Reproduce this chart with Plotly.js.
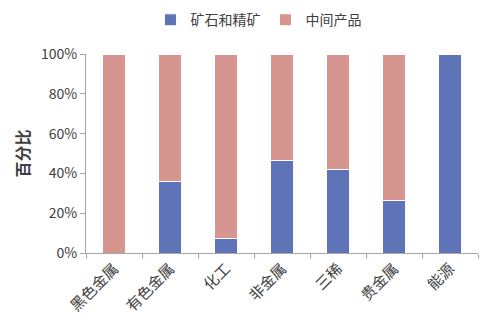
<!DOCTYPE html>
<html><head><meta charset="utf-8">
<script src="https://cdn.plot.ly/plotly-3.0.1.min.js"></script>
<style>body{margin:0;background:#fff}#c{width:494px;height:331px}</style>
</head><body><div id="c"></div>
<script>
const categories = ['黑色金属','有色金属','化工','非金属','三稀','贵金属','能源'];
const oreValues = [0, 0.36, 0.074, 0.467, 0.418, 0.264, 1.0];
const midValues = [1.0, 0.64, 0.926, 0.533, 0.582, 0.736, 0];
const seriesNames = ['矿石和精矿','中间产品'];
const yTicks = [0,0.2,0.4,0.6,0.8,1.0];
const yTickText = ['0%','20%','40%','60%','80%','100%'];

const font = "'Noto Sans CJK SC', 'Noto Sans', sans-serif";
const traces = [
  {type:'bar', name:seriesNames[0], x:categories, y:oreValues,
   marker:{color:'#5F74B8', line:{color:'#ffffff', width:1}}},
  {type:'bar', name:seriesNames[1], x:categories, y:midValues,
   marker:{color:'#D6958F', line:{color:'#ffffff', width:1}}}
];
const layout = {
  width:494, height:331, barmode:'stack', bargap:0.6,
  margin:{l:86, r:16, t:54, b:78, autoexpand:false},
  paper_bgcolor:'#fff', plot_bgcolor:'#fff',
  font:{family:font, size:13, color:'#404040'},
  showlegend:true,
  legend:{orientation:'h', x:0.44, xanchor:'center', y:1.17, yanchor:'middle',
    font:{size:14, color:'#404040'}, itemwidth:30, traceorder:'normal'},
  xaxis:{type:'category', showline:true, linecolor:'#A6A6A6', linewidth:1,
    ticks:'outside', ticklen:5, tickcolor:'#A6A6A6', tickson:'boundaries',
    tickangle:-45, tickfont:{size:15, color:'#404040'}, showgrid:false, zeroline:false,
    automargin:false},
  yaxis:{range:[0,1], tickvals:yTicks, ticktext:yTickText, showline:true,
    linecolor:'#A6A6A6', linewidth:1, ticks:'outside', ticklen:5, tickcolor:'#A6A6A6',
    showgrid:false, zeroline:false, tickfont:{size:14, color:'#404040'}, automargin:false,
    title:{text:'<b>百分比</b>', font:{size:16, color:'#404040'}, standoff:7}}
};
Plotly.newPlot('c', traces, layout, {displayModeBar:false, staticPlot:true});
</script></body></html>
